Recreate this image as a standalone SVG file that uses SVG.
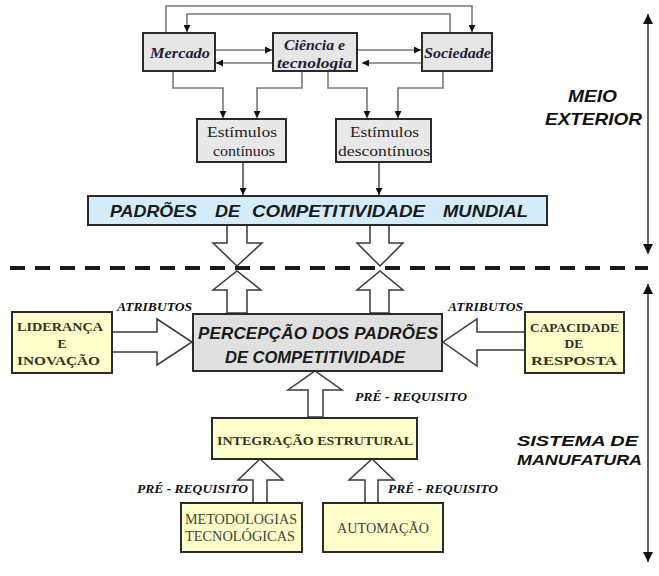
<svg xmlns="http://www.w3.org/2000/svg" width="659" height="576" viewBox="0 0 659 576">
  <style>
    .box { stroke: #2a2a2a; stroke-width: 2; }
    .env { fill: #e6e6e6; }
    .stim { fill: #e8e8e8; }
    .blue { fill: #d4ecfa; }
    .grey { fill: #e0e0e0; }
    .yel { fill: #ffffcc; }
    .wire { fill: none; stroke: #7a7a7a; stroke-width: 1.6; }
    .dark { fill: none; stroke: #3a3a3a; stroke-width: 1.4; }
    .hollow { fill: #ffffff; stroke: #3a3a3a; stroke-width: 1.5; stroke-linejoin: miter; }
    .tItal { font-family: "Liberation Serif", serif; font-weight: bold; font-style: italic; font-size: 14.5px; fill: #1e1e38; }
    .tSer { font-family: "Liberation Serif", serif; font-size: 15px; fill: #222; }
    .tBig { font-family: "Liberation Sans", Arial, sans-serif; font-weight: bold; font-style: italic; font-size: 17px; fill: #1a1a1a; }
    .tYel { font-family: "Liberation Serif", serif; font-weight: bold; font-size: 13.5px; fill: #333322; }
    .tYelR { font-family: "Liberation Serif", serif; font-size: 14px; fill: #444433; }
    .tLab { font-family: "Liberation Serif", serif; font-weight: bold; font-style: italic; font-size: 12px; fill: #111; }
    .tSide { font-family: "Liberation Sans", Arial, sans-serif; font-weight: bold; font-style: italic; font-size: 16.5px; fill: #111; }
    .tSide2 { font-family: "Liberation Sans", Arial, sans-serif; font-weight: bold; font-style: italic; font-size: 15px; fill: #111; }
  </style>
  <defs>
    <marker id="ah" viewBox="0 0 10 10" refX="10" refY="5" markerWidth="7" markerHeight="7" markerUnits="userSpaceOnUse" orient="auto">
      <path d="M0,0 L10,5 L0,10 z" fill="#111"/>
    </marker>
    <marker id="ahBig" viewBox="0 0 10 10" refX="10" refY="5" markerWidth="10" markerHeight="10" markerUnits="userSpaceOnUse" orient="auto-start-reverse">
      <path d="M0,0 L10,5 L0,10 z" fill="#111"/>
    </marker>
  </defs>

  <!-- connectors -->
  <g id="connectors">
    <!-- feedback loops over the top -->
    <polyline class="wire" points="166,33 166,6 472,6 472,32" marker-end="url(#ah)"/>
    <polyline class="wire" points="450,33 450,14 187,14 187,32" marker-end="url(#ah)"/>
    <!-- horizontal exchanges -->
    <line class="wire" x1="215" y1="50" x2="272" y2="50" marker-end="url(#ah)"/>
    <line class="wire" x1="273" y1="63" x2="216" y2="63" marker-end="url(#ah)"/>
    <line class="wire" x1="357" y1="50" x2="421" y2="50" marker-end="url(#ah)"/>
    <line class="wire" x1="422" y1="63" x2="362" y2="63" marker-end="url(#ah)"/>
    <!-- down to stimulus boxes -->
    <polyline class="wire" points="173,71 173,88 223,88 223,118" marker-end="url(#ah)"/>
    <polyline class="wire" points="302,71 302,88 257,88 257,118" marker-end="url(#ah)"/>
    <polyline class="wire" points="328,71 328,88 367,88 367,118" marker-end="url(#ah)"/>
    <polyline class="wire" points="443,71 443,88 398,88 398,118" marker-end="url(#ah)"/>
    <!-- stimuli into world standards -->
    <line class="dark" x1="243" y1="162" x2="243" y2="195" marker-end="url(#ah)"/>
    <line class="dark" x1="379" y1="162" x2="379" y2="195" marker-end="url(#ah)"/>

    <!-- hollow arrows crossing the boundary -->
    <polygon class="hollow" points="227,225 227,243 213,243 237,266 262,243 247,243 247,225"/>
    <polygon class="hollow" points="227,313 227,290 213,290 237,271 261,290 247,290 247,313"/>
    <polygon class="hollow" points="370,225 370,243 357,243 380,266 403,243 389,243 389,225"/>
    <polygon class="hollow" points="370,313 370,290 357,290 380,271 403,290 389,290 389,313"/>

    <!-- attributes -->
    <polygon class="hollow" points="112,332 157,332 157,319 192,342 157,365 157,352 112,352"/>
    <polygon class="hollow" points="525,332 477,332 477,319 443,342 477,366 477,350 525,350"/>

    <!-- prerequisites -->
    <polygon class="hollow" points="308,417 308,390 288,390 315,371 342,390 323,390 323,417"/>
    <polygon class="hollow" points="253,503 253,480 238,480 260,459 283,480 267,480 267,503"/>
    <polygon class="hollow" points="365,503 365,480 349,480 372,459 394,480 378,480 378,503"/>

    <!-- boundary line -->
    <line x1="10" y1="268" x2="648" y2="268" stroke="#1a1a1a" stroke-width="4" stroke-dasharray="15 10"/>

    <!-- side axes -->
    <line x1="648" y1="14" x2="648" y2="254" stroke="#666" stroke-width="2" marker-start="url(#ahBig)" marker-end="url(#ahBig)"/>
    <line x1="648" y1="284" x2="648" y2="562" stroke="#666" stroke-width="2" marker-start="url(#ahBig)" marker-end="url(#ahBig)"/>
  </g>

  <!-- environment nodes -->
  <g id="mercado">
    <rect class="box env" x="143" y="33" width="72" height="38"/>
    <text class="tItal" x="150" y="58" textLength="60" lengthAdjust="spacingAndGlyphs">Mercado</text>
  </g>
  <g id="ciencia">
    <rect class="box env" x="273" y="33" width="84" height="38"/>
    <text class="tItal" x="284" y="50" textLength="61" lengthAdjust="spacingAndGlyphs">Ciência e</text>
    <text class="tItal" x="277" y="68" textLength="75" lengthAdjust="spacingAndGlyphs">tecnologia</text>
  </g>
  <g id="sociedade">
    <rect class="box env" x="422" y="33" width="70" height="38"/>
    <text class="tItal" x="424" y="58" textLength="67" lengthAdjust="spacingAndGlyphs">Sociedade</text>
  </g>
  <g id="estimulos-continuos">
    <rect class="box stim" x="197" y="119" width="89" height="43"/>
    <text class="tSer" x="207" y="137" textLength="70" lengthAdjust="spacingAndGlyphs">Estímulos</text>
    <text class="tSer" x="213" y="156" textLength="62" lengthAdjust="spacingAndGlyphs">contínuos</text>
  </g>
  <g id="estimulos-descontinuos">
    <rect class="box stim" x="336" y="119" width="95" height="43"/>
    <text class="tSer" x="350" y="137" textLength="69" lengthAdjust="spacingAndGlyphs">Estímulos</text>
    <text class="tSer" x="338" y="156" textLength="92" lengthAdjust="spacingAndGlyphs">descontínuos</text>
  </g>
  <g id="padroes-mundial">
    <rect class="box blue" x="88" y="196" width="459" height="29"/>
    <text class="tBig" x="110" y="217" textLength="87" lengthAdjust="spacingAndGlyphs">PADRÕES</text>
    <text class="tBig" x="215" y="217" textLength="25" lengthAdjust="spacingAndGlyphs">DE</text>
    <text class="tBig" x="252" y="217" textLength="173" lengthAdjust="spacingAndGlyphs">COMPETITIVIDADE</text>
    <text class="tBig" x="443" y="217" textLength="85" lengthAdjust="spacingAndGlyphs">MUNDIAL</text>
  </g>

  <!-- manufacturing system nodes -->
  <g id="lideranca">
    <rect class="box yel" x="12" y="312" width="100" height="61"/>
    <text class="tYel" x="17" y="331" textLength="86" lengthAdjust="spacingAndGlyphs">LIDERANÇA</text>
    <text class="tYel" x="62" y="348" text-anchor="middle">E</text>
    <text class="tYel" x="17" y="365" textLength="83" lengthAdjust="spacingAndGlyphs">INOVAÇÃO</text>
  </g>
  <g id="percepcao">
    <rect class="box grey" x="193" y="314" width="249" height="57"/>
    <text class="tBig" x="198" y="339" textLength="240" lengthAdjust="spacing">PERCEPÇÃO  DOS  PADRÕES</text>
    <text class="tBig" x="225" y="363" textLength="180" lengthAdjust="spacingAndGlyphs">DE COMPETITIVIDADE</text>
  </g>
  <g id="capacidade">
    <rect class="box yel" x="525" y="312" width="99" height="61"/>
    <text class="tYel" x="530" y="332" textLength="89" lengthAdjust="spacingAndGlyphs">CAPACIDADE</text>
    <text class="tYel" x="574" y="348" text-anchor="middle">DE</text>
    <text class="tYel" x="531" y="365" textLength="86" lengthAdjust="spacingAndGlyphs">RESPOSTA</text>
  </g>
  <g id="integracao">
    <rect class="box yel" x="212" y="418" width="205" height="41"/>
    <text class="tYel" x="217" y="445" textLength="196" lengthAdjust="spacingAndGlyphs">INTEGRAÇÃO ESTRUTURAL</text>
  </g>
  <g id="metodologias">
    <rect class="box yel" x="181" y="503" width="121" height="49"/>
    <text class="tYelR" x="185" y="524" textLength="112" lengthAdjust="spacingAndGlyphs">METODOLOGIAS</text>
    <text class="tYelR" x="185" y="541" textLength="110" lengthAdjust="spacingAndGlyphs">TECNOLÓGICAS</text>
  </g>
  <g id="automacao">
    <rect class="box yel" x="323" y="503" width="120" height="49"/>
    <text class="tYelR" x="337" y="533" textLength="92" lengthAdjust="spacingAndGlyphs">AUTOMAÇÃO</text>
  </g>

  <!-- labels -->
  <g id="labels">
    <text class="tLab" x="117" y="311" textLength="75" lengthAdjust="spacingAndGlyphs">ATRIBUTOS</text>
    <text class="tLab" x="448" y="311" textLength="75" lengthAdjust="spacingAndGlyphs">ATRIBUTOS</text>
    <text class="tLab" x="355" y="401" textLength="112" lengthAdjust="spacingAndGlyphs">PRÉ - REQUISITO</text>
    <text class="tLab" x="137" y="493" textLength="111" lengthAdjust="spacingAndGlyphs">PRÉ - REQUISITO</text>
    <text class="tLab" x="388" y="493" textLength="110" lengthAdjust="spacingAndGlyphs">PRÉ - REQUISITO</text>
    <text class="tSide" x="568" y="102" textLength="49" lengthAdjust="spacingAndGlyphs">MEIO</text>
    <text class="tSide" x="545" y="125" textLength="97" lengthAdjust="spacingAndGlyphs">EXTERIOR</text>
    <text class="tSide2" x="517" y="446" textLength="121" lengthAdjust="spacingAndGlyphs">SISTEMA DE</text>
    <text class="tSide2" x="517" y="465" textLength="125" lengthAdjust="spacingAndGlyphs">MANUFATURA</text>
  </g>
</svg>
